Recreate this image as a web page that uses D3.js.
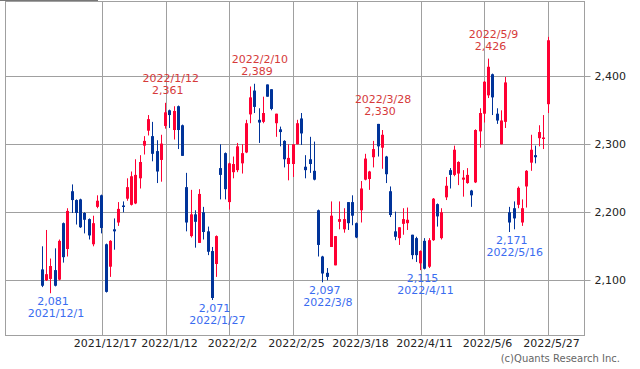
<!DOCTYPE html>
<html>
<head>
<meta charset="utf-8">
<script src="https://cdn.jsdelivr.net/npm/d3@7"></script>
<style>
html,body{margin:0;padding:0;background:#fff;}
svg{display:block;font-family:"DejaVu Sans",sans-serif;}
</style>
</head>
<body>
<svg id="chart" width="640" height="369"></svg>
<script>
// ---- data ----
const tickLabels = ["2021/12/17","2022/1/12","2022/2/2","2022/2/25","2022/3/18","2022/4/11","2022/5/6","2022/5/27"];
const tickIndex = [14,29,44,59,74,89,104,119];
const priceTicks = [2100,2200,2300,2400];

const openP = [2116,2100,2102,2115,2101,2184,2146,2231,2218,2219,
2199,2190,2153,2208,2225,2153,2120,2175,2185,2210,
2220,2211,2213,2250,2298,2320,2312,2290,2277,2327,
2350,2321,2356,2328,2237,2165,2197,2155,2200,2172,
2143,2124,2265,2287,2215,2259,2262,2272,2288,2344,
2379,2336,2333,2388,2381,2331,2322,2305,2271,2271,
2300,2338,2267,2278,2261,2203,2135,2111,2149,2122,
2186,2175,2215,2215,2184,2203,2248,2249,2281,2330,
2295,2282,2231,2172,2162,2183,2184,2167,2162,2125,
2158,2120,2159,2212,2162,2222,2262,2255,2257,2248,
2243,2232,2244,2319,2345,2372,2403,2345,2300,2333,
2200,2206,2211,2185,2238,2273,2284,2309,2308,2359];
const highP = [2150,2174,2132,2147,2160,2185,2206,2241,2219,2220,
2200,2191,2195,2225,2226,2154,2159,2191,2215,2216,
2250,2260,2278,2284,2312,2343,2333,2306,2314,2361,
2351,2356,2357,2329,2258,2233,2203,2234,2208,2179,
2149,2166,2300,2288,2273,2282,2302,2300,2336,2385,
2389,2353,2370,2388,2381,2345,2326,2306,2300,2300,
2336,2346,2284,2311,2304,2204,2136,2118,2216,2165,
2216,2206,2215,2225,2185,2246,2286,2261,2305,2330,
2321,2283,2238,2201,2178,2206,2207,2167,2164,2144,
2162,2162,2221,2213,2206,2252,2265,2298,2275,2262,
2265,2233,2322,2353,2393,2426,2404,2353,2350,2399,
2208,2216,2238,2219,2262,2314,2298,2328,2343,2458];
const lowP = [2090,2099,2081,2091,2100,2126,2135,2199,2182,2177,
2169,2160,2150,2206,2169,2082,2105,2145,2180,2200,
2217,2210,2212,2235,2285,2313,2275,2243,2245,2323,
2324,2307,2293,2283,2172,2163,2148,2155,2160,2137,
2071,2105,2219,2219,2204,2250,2259,2257,2287,2331,
2346,2302,2331,2370,2350,2311,2297,2266,2247,2252,
2300,2299,2250,2258,2247,2135,2097,2100,2149,2122,
2175,2170,2174,2181,2162,2185,2247,2233,2266,2282,
2264,2243,2193,2159,2152,2167,2174,2131,2127,2115,
2116,2118,2158,2179,2160,2218,2235,2253,2240,2223,
2242,2208,2243,2295,2332,2368,2343,2330,2300,2324,
2171,2175,2206,2180,2207,2261,2272,2297,2293,2346];
const closeP = [2092,2109,2121,2092,2158,2134,2202,2218,2199,2178,
2189,2166,2184,2217,2177,2083,2158,2172,2205,2209,
2237,2253,2255,2274,2305,2337,2286,2260,2301,2347,
2343,2349,2321,2283,2185,2197,2186,2227,2171,2142,
2074,2165,2255,2234,2272,2271,2297,2287,2331,2369,
2355,2332,2346,2370,2352,2345,2318,2278,2280,2300,
2331,2316,2262,2271,2248,2152,2110,2105,2195,2165,
2190,2190,2184,2195,2163,2235,2279,2260,2293,2297,
2314,2256,2196,2164,2178,2190,2189,2137,2137,2143,
2117,2159,2220,2194,2200,2239,2255,2292,2274,2251,
2255,2225,2321,2346,2392,2414,2369,2335,2335,2391,
2185,2191,2236,2206,2261,2292,2281,2318,2310,2453];

const peakIndex = [29,50,79,105];
const peakDates = ["2022/1/12","2022/2/10","2022/3/28","2022/5/9"];
const troughIndex = [2,40,66,89,110];
const troughDates = ["2021/12/1","2022/1/27","2022/3/8","2022/4/11","2022/5/16"];
const copyright = "(c)Quants Research Inc.";

// ---- layout ----
const svg = d3.select("#chart");
const plot = {left:5.5, right:584.5, top:1.5, bottom:335.5};
const x = d3.scaleLinear().domain([0,119]).range([42.5,548]);
const y = d3.scaleLinear().domain([2100,2400]).range([280.3,76.3]);
const gridColor = "#a0a0a0";
const upColor = "#ff0033", downColor = "#003399";
const fmt = d3.format(",");

svg.append("rect").attr("width",640).attr("height",369).attr("fill","#fff");
svg.append("line").attr("x1",0).attr("x2",98).attr("y1",0.5).attr("y2",0.5).attr("stroke","#777");

// horizontal grid + right axis
const yAxis = d3.axisRight(y).tickValues(priceTicks).tickFormat(fmt).tickSize(6).tickPadding(4);
const gy = svg.append("g").attr("transform",`translate(${plot.right},0)`).call(yAxis);
gy.select(".domain").remove();
gy.selectAll(".tick line").attr("stroke",gridColor).attr("x1",-(plot.right-plot.left)).attr("x2",6);
gy.selectAll(".tick text").attr("fill","#222").attr("font-size",11).attr("font-family","DejaVu Sans");
gy.selectAll(".tick").attr("transform",d=>`translate(0,${Math.round(y(d))+0.5})`);

// vertical grid + bottom labels
const gx = svg.append("g");
tickIndex.forEach((idx,k)=>{
  const xx = Math.round(x(idx))+0.5;
  gx.append("line").attr("x1",xx).attr("x2",xx).attr("y1",plot.top).attr("y2",plot.bottom).attr("stroke",gridColor);
  gx.append("text").attr("x",xx+3).attr("y",347).attr("text-anchor","middle")
    .attr("font-size",11).attr("fill","#222").text(tickLabels[k]);
});

// frame
svg.append("rect").attr("x",plot.left).attr("y",plot.top)
  .attr("width",plot.right-plot.left).attr("height",plot.bottom-plot.top)
  .attr("fill","none").attr("stroke",gridColor);

// candles
const idx = d3.range(openP.length);
const g = svg.append("g");
const cx = i => Math.round(x(i)-1.5);
g.selectAll("line.wick").data(idx).join("line")
  .attr("x1",i=>cx(i)+1.5).attr("x2",i=>cx(i)+1.5)
  .attr("y1",i=>y(highP[i])).attr("y2",i=>y(lowP[i]))
  .attr("stroke",i=>closeP[i]>=openP[i]?upColor:downColor).attr("stroke-width",1);
g.selectAll("rect.body").data(idx).join("rect")
  .attr("x",i=>cx(i)).attr("width",3)
  .attr("y",i=>y(Math.max(openP[i],closeP[i])))
  .attr("height",i=>Math.max(1.5,Math.abs(y(openP[i])-y(closeP[i]))))
  .attr("fill",i=>closeP[i]>=openP[i]?upColor:downColor);

// annotations
const ann = svg.append("g").attr("font-size",11).attr("text-anchor","middle");
peakIndex.forEach((i,k)=>{
  const xx = x(i), yy = y(highP[i]);
  ann.append("text").attr("x",xx+2).attr("y",yy-8.5).attr("fill","#d63a3a").text(fmt(highP[i]));
  ann.append("text").attr("x",xx+5).attr("y",yy-20.5).attr("fill","#d63a3a").text(peakDates[k]);
});
troughIndex.forEach((i,k)=>{
  const xx = x(i), yy = y(lowP[i]);
  ann.append("text").attr("x",xx+2).attr("y",yy+12).attr("fill","#3a6cf0").text(fmt(lowP[i]));
  ann.append("text").attr("x",xx+5).attr("y",yy+24).attr("fill","#3a6cf0").text(troughDates[k]);
});

svg.append("text").attr("x",620).attr("y",362).attr("text-anchor","end")
  .attr("font-size",10).attr("fill","#666").text(copyright);
</script>
</body>
</html>
